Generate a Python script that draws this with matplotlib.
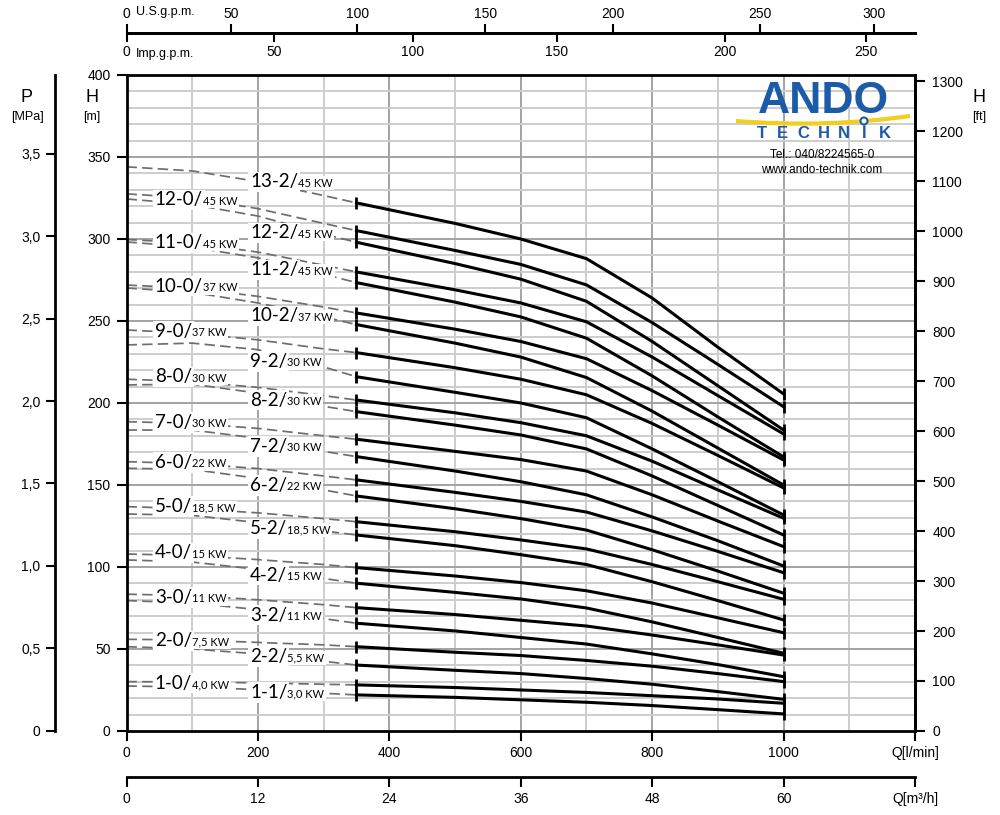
import matplotlib
matplotlib.use('Agg')
import matplotlib.pyplot as plt
from matplotlib.path import Path
from matplotlib.patches import PathPatch, Circle

AXFONT = ['Liberation Sans Narrow', 'Liberation Sans', 'DejaVu Sans']
LBLFONT = ['Lato', 'DejaVu Sans']
plt.rcParams['font.family'] = AXFONT

# pump types and motor power
names = ['13-2', '12-0', '12-2', '11-0', '11-2', '10-0', '10-2', '9-0', '9-2',
         '8-0', '8-2', '7-0', '7-2', '6-0', '6-2', '5-0', '5-2', '4-0', '4-2',
         '3-0', '3-2', '2-0', '2-2', '1-0', '1-1']
power = ['45', '45', '45', '45', '45', '37', '37', '37', '30', '30', '30', '30', '30',
         '22', '22', '18,5', '18,5', '15', '15', '11', '11', '7,5', '5,5', '4,0', '3,0']

# H [m] over Q [l/min], dashed part (outside working range)
q_dash = [0, 100, 200, 300, 350]
h_dash = [
    [344.0, 341.5, 335.0, 326.5, 322.0],
    [327.5, 325.0, 318.5, 309.5, 305.1],
    [324.4, 321.0, 314.0, 303.0, 298.0],
    [299.7, 297.5, 292.0, 284.0, 279.9],
    [298.2, 295.0, 288.5, 278.5, 273.4],
    [271.9, 270.0, 265.0, 258.5, 254.9],
    [270.1, 267.5, 261.0, 252.5, 247.8],
    [244.5, 242.5, 238.5, 233.0, 230.7],
    [235.4, 236.5, 232.5, 222.0, 216.0],
    [214.5, 213.0, 209.5, 204.5, 201.8],
    [211.0, 211.5, 206.0, 198.0, 194.7],
    [188.6, 187.5, 184.5, 180.0, 177.9],
    [183.5, 183.5, 178.5, 170.5, 167.3],
    [164.2, 163.0, 160.0, 155.5, 153.1],
    [160.2, 159.5, 154.0, 147.0, 143.3],
    [136.8, 135.5, 133.0, 129.5, 127.6],
    [132.3, 131.5, 127.0, 122.0, 119.5],
    [107.9, 107.0, 104.5, 101.5, 99.6],
    [104.3, 103.0, 98.5, 93.0, 90.1],
    [83.4, 82.5, 80.0, 77.0, 75.2],
    [79.5, 78.0, 74.0, 68.5, 65.7],
    [55.9, 55.5, 54.0, 52.5, 51.4],
    [51.4, 50.0, 47.0, 42.5, 40.2],
    [30.1, 29.9, 29.3, 28.5, 28.1],
    [27.4, 26.8, 25.2, 23.0, 22.0],
]

# solid part (working range)
q_solid = [350, 500, 600, 700, 800, 900, 1000]
h_solid = [
    [322.0, 309.5, 300.0, 288.0, 264.0, 234.0, 205.5],
    [305.1, 293.0, 284.5, 272.0, 249.0, 223.5, 197.7],
    [298.0, 285.0, 275.5, 262.0, 237.5, 210.5, 183.5],
    [279.9, 269.0, 261.0, 249.5, 228.0, 204.5, 181.1],
    [273.4, 261.5, 252.5, 239.5, 216.5, 191.5, 167.1],
    [254.9, 245.0, 237.5, 227.0, 207.5, 186.5, 165.2],
    [247.8, 236.5, 228.0, 215.5, 195.0, 172.5, 150.0],
    [230.7, 221.5, 214.5, 205.0, 187.5, 168.0, 148.2],
    [216.0, 206.5, 200.0, 191.0, 172.0, 152.0, 131.7],
    [201.8, 194.0, 188.0, 180.0, 164.5, 147.0, 129.7],
    [194.7, 186.5, 180.5, 172.0, 155.5, 137.5, 119.5],
    [177.9, 170.5, 165.5, 158.5, 144.0, 128.0, 112.4],
    [167.3, 158.5, 152.0, 144.0, 130.5, 116.0, 100.6],
    [153.1, 145.5, 140.0, 133.5, 122.0, 109.5, 96.5],
    [143.3, 135.5, 129.5, 122.5, 110.5, 97.5, 84.0],
    [127.6, 121.5, 116.5, 111.0, 101.5, 91.0, 80.3],
    [119.5, 113.0, 107.5, 101.5, 91.0, 79.5, 67.7],
    [99.6, 94.5, 90.5, 85.5, 78.0, 69.0, 59.9],
    [90.1, 84.5, 80.5, 75.0, 66.5, 57.0, 47.4],
    [75.2, 71.0, 67.5, 64.0, 58.5, 52.5, 46.3],
    [65.7, 61.0, 57.0, 53.0, 47.0, 40.5, 33.1],
    [51.4, 48.0, 46.0, 43.0, 39.5, 35.0, 30.1],
    [40.2, 37.0, 35.0, 32.0, 28.5, 24.0, 19.3],
    [28.1, 26.5, 25.0, 23.5, 21.5, 19.5, 16.9],
    [22.0, 20.5, 19.0, 17.5, 15.5, 13.0, 10.4],
]

# label heights [m]
label_h = [334.8, 323.8, 303.7, 297.6, 281.1, 271.3, 253.2, 243.5, 225.2,
           216.0, 201.8, 188.0, 173.4, 163.8, 149.6, 136.8, 123.2, 108.7, 95.1,
           81.5, 70.7, 54.9, 45.3, 29.1, 23.4]

# auxiliary scales
p_ticks = [0, 0.5, 1.0, 1.5, 2.0, 2.5, 3.0, 3.5]
p_labels = ['0', '0,5', '1,0', '1,5', '2,0', '2,5', '3,0', '3,5']
us_pos = [0, 159, 351, 546, 740, 964, 1138]
us_labels = ['0', '50', '100', '150', '200', '250', '300']
imp_pos = [0, 225, 436, 655, 911, 1126]
imp_labels = ['0', '50', '100', '150', '200', '250']
m3h_ticks = [0, 12, 24, 36, 48, 60, 72]
m3h_labels = ['0', '12', '24', '36', '48', '60', 'Q[m³/h]']

fig = plt.figure(figsize=(10, 8.15), dpi=100)
L, B, W, HH = 0.1265, 0.1031, 0.7885, 0.8049


def px(x, y):
    return x / 1000, 1 - y / 815


ax = fig.add_axes([L, B, W, HH])
ax.set_xlim(0, 1200)
ax.set_ylim(0, 400)
for q in range(100, 1200, 100):
    ax.axvline(q, color='#a3a3a3' if q % 200 == 0 else '#cdcdcd', lw=1.4, zorder=0)
for h in range(10, 400, 10):
    ax.axhline(h, color='#a3a3a3' if h % 50 == 0 else '#cdcdcd', lw=1.4, zorder=0)
for s in ax.spines.values():
    s.set_linewidth(2)

ax.set_yticks(range(0, 401, 50))
ax.tick_params(axis='y', direction='out', length=7.5, width=1.5, labelsize=10, pad=4)
ax.set_xticks(range(0, 1201, 200))
ax.set_xticklabels(['0', '200', '400', '600', '800', '1000', 'Q[l/min]'])
ax.tick_params(axis='x', direction='out', length=7.5, width=1.5, labelsize=10, pad=3)

for i in range(len(names)):
    ax.plot(q_dash, h_dash[i], color='#6e6e6e', lw=1.25, dashes=(6, 3), zorder=2)
    ax.plot(q_solid, h_solid[i], color='black', lw=2.2, zorder=3,
            solid_joinstyle='round')
    ax.plot([q_solid[0], q_solid[-1]], [h_solid[i][0], h_solid[i][-1]], ls='none',
            marker='|', ms=9, mew=2, color='black', zorder=3)

for i, name in enumerate(names):
    q0 = 43 if name.endswith('-0') else 188
    t1 = ax.text(q0, label_h[i], name + '/', fontsize=13.5, family=LBLFONT,
                 ha='left', va='center', zorder=5,
                 bbox=dict(fc='white', ec='none', pad=1.2))
    ax.annotate(power[i] + ' KW', xy=(1, 0), xycoords=t1, xytext=(0, 1.2),
                textcoords='offset points', fontsize=8, family=LBLFONT,
                ha='left', va='bottom', zorder=5,
                bbox=dict(fc='white', ec='none', pad=1.2))

# H in feet
axr = ax.secondary_yaxis('right', functions=(lambda m: m / 0.3048, lambda f: f * 0.3048))
axr.set_yticks(range(0, 1301, 100))
axr.tick_params(direction='out', length=7.5, width=1.5, labelsize=10, pad=5)
axr.spines['right'].set_linewidth(2)

# pressure axis
axp = fig.add_axes([0.055, B, 0.001, HH])
axp.set_ylim(0, 400 / 100.6)
axp.patch.set_visible(False)
for k, s in axp.spines.items():
    s.set_visible(k == 'left')
    s.set_linewidth(2)
axp.set_xticks([])
axp.set_yticks(p_ticks)
axp.set_yticklabels(p_labels)
axp.tick_params(axis='y', direction='out', length=6.5, width=1.5, labelsize=10, pad=4)

# gallons per minute, top
for pos, labels, side in [(us_pos, us_labels, 'top'), (imp_pos, imp_labels, 'bottom')]:
    a = fig.add_axes([L, 1 - 33 / 815, W, 0.0005])
    a.set_xlim(0, 1200)
    a.patch.set_visible(False)
    for k, s in a.spines.items():
        s.set_visible(k == 'bottom')
        s.set_linewidth(2)
    a.set_yticks([])
    a.set_xticks(pos)
    a.set_xticklabels(labels)
    a.tick_params(axis='x', direction='out', length=6.5, width=1.5, labelsize=10, pad=2,
                  top=(side == 'top'), labeltop=(side == 'top'),
                  bottom=(side == 'bottom'), labelbottom=(side == 'bottom'))

# m3/h, bottom
axm = fig.add_axes([L, 38 / 815, W, 0.0005])
axm.set_xlim(0, 1200 * 0.06)
axm.patch.set_visible(False)
for k, s in axm.spines.items():
    s.set_visible(k == 'bottom')
    s.set_linewidth(2)
axm.set_yticks([])
axm.set_xticks(m3h_ticks)
axm.set_xticklabels(m3h_labels)
axm.tick_params(axis='x', direction='out', length=7.5, width=1.5, labelsize=10, pad=3)

# axis titles
fig.text(*px(27, 97), 'P', fontsize=13, ha='center', va='center')
fig.text(*px(27, 117), '[MPa]', fontsize=9, ha='center', va='center')
fig.text(*px(92, 97), 'H', fontsize=13, ha='center', va='center')
fig.text(*px(92, 117), '[m]', fontsize=9, ha='center', va='center')
fig.text(*px(979, 97), 'H', fontsize=13, ha='center', va='center')
fig.text(*px(979, 117), '[ft]', fontsize=9, ha='center', va='center')
fig.text(*px(136, 12), 'U.S.g.p.m.', fontsize=9, ha='left', va='center')
fig.text(*px(136, 54), 'Imp.g.p.m.', fontsize=9, ha='left', va='center')

# logo
ov = fig.add_axes([0, 0, 1, 1])
ov.set_xlim(0, 1000)
ov.set_ylim(815, 0)
ov.axis('off')
blue = '#1c5ba8'
ov.text(823, 113, 'ANDO', color=blue, fontsize=32, fontweight='bold', ha='center',
        va='baseline', family=['Liberation Sans Narrow', 'Liberation Sans', 'DejaVu Sans'])
arc = Path([(736, 121), (826, 128), (910, 116)], [Path.MOVETO, Path.CURVE3, Path.CURVE3])
ov.add_patch(PathPatch(arc, fill=False, ec='#f2cf1d', lw=3))
ov.add_patch(Circle((864, 121), 3.5, fc='white', ec=blue, lw=1.5))
for k, ch in enumerate('TECHNİK'):
    ov.text(762 + k * 20.5, 133, ch, color=blue, fontsize=12, fontweight='bold',
            ha='center', va='center', family=['Liberation Sans', 'DejaVu Sans'])
ov.text(822, 155, 'Tel.: 040/8224565-0', fontsize=8.5, ha='center', va='center',
        family=['Liberation Sans', 'DejaVu Sans'])
ov.text(822, 170, 'www.ando-technik.com', fontsize=8.5, ha='center', va='center',
        family=['Liberation Sans', 'DejaVu Sans'])

fig.savefig('out.png', dpi=100)
